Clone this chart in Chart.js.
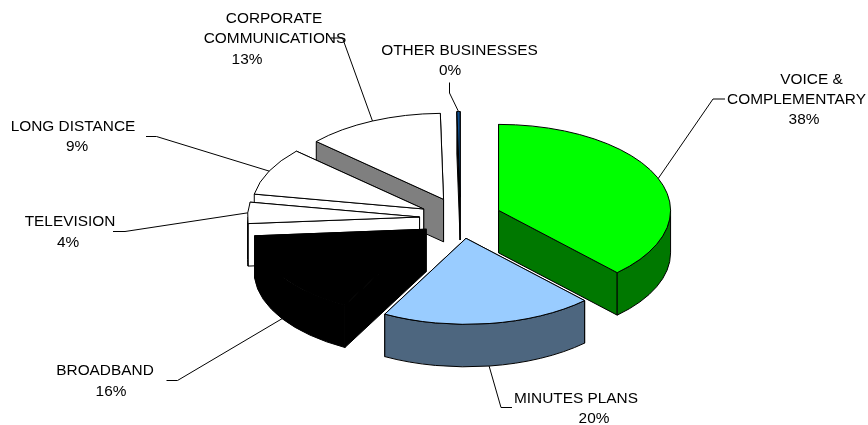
<!DOCTYPE html>
<html>
<head>
<meta charset="utf-8">
<title>Revenue breakdown</title>
<script src="https://cdn.jsdelivr.net/npm/chart.js@4/dist/chart.umd.min.js"></script>
<style>
  html, body { margin: 0; padding: 0; background: #fff; }
  #wrap { position: relative; width: 868px; height: 425px; }
</style>
</head>
<body>
<div id="wrap"><canvas id="chart"></canvas></div>
<script>
// Slices, clockwise from twelve o'clock
const categories = [
  "VOICE &\nCOMPLEMENTARY",
  "MINUTES PLANS",
  "BROADBAND",
  "TELEVISION",
  "LONG DISTANCE",
  "CORPORATE\nCOMMUNICATIONS",
  "OTHER BUSINESSES"
];
const shares = [38, 20, 16, 4, 9, 13, 0.3];

// Colours of the top face and the side walls of each slice
const topColors  = ["#00ff00", "#99ccff", "#000000", "#ffffff", "#ffffff", "#ffffff", "#0f4f8f"];
const sideColors = ["#007800", "#4d667f", "#000000", "#ffffff", "#ffffff", "#7f7f7f", "#000000"];

// Back-to-front painting order
const paintOrder = [6, 5, 4, 3, 2, 1, 0];

// Projection of the flat pie into the tilted view
const TILT = { centerY: 218, squash: 0.5, depth: 42.5 };
const RADIUS = 172;
const EXPLODE = 41;         // radial gap of every slice, before squashing
const PAD_LEFT = 53;

// Leader bend and end, then centre/baseline of each text line, per slice
const calloutLayout = [
  { bend: [713, 99],    end: [725, 99],    lines: [[811.5, 84], [796.5, 104], [804, 124]] },
  { bend: [501, 407.5], end: [512, 407.5], lines: [[576, 402.5], [594, 422.5]] },
  { bend: [177.5, 380.5], end: [166.5, 380.5], lines: [[105, 375], [111, 395.5]] },
  { bend: [125, 231.5], end: [113, 231.5], lines: [[70, 226], [68, 246.5]] },
  { bend: [156.5, 136.5], end: [146, 136.5], lines: [[73, 131], [77, 151]] },
  { bend: [342.5, 38],  end: [331, 38],    lines: [[274, 23], [275, 42.5], [247, 63.5]] },
  { bend: [449.5, 93],  end: [449.5, 82.5], lines: [[459.5, 55], [450, 75]] }
];

const total = shares.reduce((a, b) => a + b, 0);

// Position of a slice after its explode shift, in view coordinates
function sliceCenter(arc) {
  const half = (arc.startAngle + arc.endAngle) / 2;
  return {
    x: arc.x + Math.cos(half) * EXPLODE,
    y: TILT.centerY + Math.sin(half) * EXPLODE * TILT.squash
  };
}

function rimPoint(c, r, angle) {
  return { x: c.x + Math.cos(angle) * r, y: c.y + Math.sin(angle) * r * TILT.squash };
}

function paintPath(ctx, fill) {
  ctx.fillStyle = fill;
  ctx.fill();
  ctx.strokeStyle = "#000";
  ctx.lineWidth = 1;
  ctx.stroke();
}

function drawWalls(ctx, arc, color) {
  const c = sliceCenter(arc);
  const r = arc.outerRadius;
  const d = TILT.depth;

  // Cut faces, rear one first
  const cuts = [arc.startAngle, arc.endAngle]
    .map(a => ({ a, p: rimPoint(c, r, a) }))
    .sort((u, v) => u.p.y - v.p.y);
  for (const { p } of cuts) {
    ctx.beginPath();
    ctx.moveTo(c.x, c.y);
    ctx.lineTo(p.x, p.y);
    ctx.lineTo(p.x, p.y + d);
    ctx.lineTo(c.x, c.y + d);
    ctx.closePath();
    paintPath(ctx, color);
  }

  // Curved wall: only the part of the rim that faces the viewer
  const a0 = Math.max(arc.startAngle, 0);
  const a1 = Math.min(arc.endAngle, Math.PI);
  if (a1 > a0) {
    ctx.beginPath();
    ctx.ellipse(c.x, c.y, r, r * TILT.squash, 0, a0, a1);
    ctx.ellipse(c.x, c.y + d, r, r * TILT.squash, 0, a1, a0, true);
    ctx.closePath();
    paintPath(ctx, color);
  }
}

function drawTop(ctx, arc, area) {
  const c = sliceCenter(arc);
  const r = arc.outerRadius;

  // The library fills the arc; the squash and the gap come from the canvas transform
  ctx.save();
  ctx.translate(c.x - arc.x, c.y);
  ctx.scale(1, TILT.squash);
  ctx.translate(0, -arc.y);
  arc.draw(ctx, area);
  ctx.restore();

  // Outline in view space so the stroke keeps an even width
  ctx.beginPath();
  ctx.moveTo(c.x, c.y);
  ctx.ellipse(c.x, c.y, r, r * TILT.squash, 0, arc.startAngle, arc.endAngle);
  ctx.closePath();
  ctx.strokeStyle = "#000";
  ctx.lineWidth = 1;
  ctx.stroke();
}

function drawCallout(ctx, arc, i) {
  const layout = calloutLayout[i];
  const c = sliceCenter(arc);
  const mid = (arc.startAngle + arc.endAngle) / 2;
  const start = rimPoint(c, arc.outerRadius, mid);
  if (Math.sin(mid) > 0) start.y += TILT.depth;

  ctx.beginPath();
  ctx.moveTo(start.x, start.y);
  ctx.lineTo(layout.bend[0], layout.bend[1]);
  ctx.lineTo(layout.end[0], layout.end[1]);
  ctx.strokeStyle = "#000";
  ctx.lineWidth = 1;
  ctx.stroke();

  const text = categories[i].split("\n").concat(Math.round(shares[i] / total * 100) + "%");
  ctx.font = '15.4px "Liberation Sans", Arial, sans-serif';
  ctx.textAlign = "center";
  ctx.textBaseline = "alphabetic";
  ctx.fillStyle = "#000";
  text.forEach((line, k) => {
    ctx.fillText(line, layout.lines[k][0], layout.lines[k][1]);
  });
}

const tiltedPie = {
  id: "tiltedPie",
  beforeDatasetDraw(chart, args) {
    const { ctx, chartArea } = chart;
    const arcs = args.meta.data;
    for (const i of paintOrder) {
      drawWalls(ctx, arcs[i], sideColors[i]);
      drawTop(ctx, arcs[i], chartArea);
    }
    return false;
  },
  afterDraw(chart) {
    const arcs = chart.getDatasetMeta(0).data;
    arcs.forEach((arc, i) => drawCallout(chart.ctx, arc, i));
  }
};

new Chart(document.getElementById("chart"), {
  type: "pie",
  data: {
    labels: categories,
    datasets: [{
      data: shares,
      backgroundColor: topColors,
      borderWidth: 0
    }]
  },
  options: {
    responsive: true,
    maintainAspectRatio: false,
    animation: false,
    radius: RADIUS,
    layout: { padding: { left: PAD_LEFT } },
    plugins: { legend: { display: false }, tooltip: { enabled: false } }
  },
  plugins: [tiltedPie]
});
</script>
</body>
</html>
